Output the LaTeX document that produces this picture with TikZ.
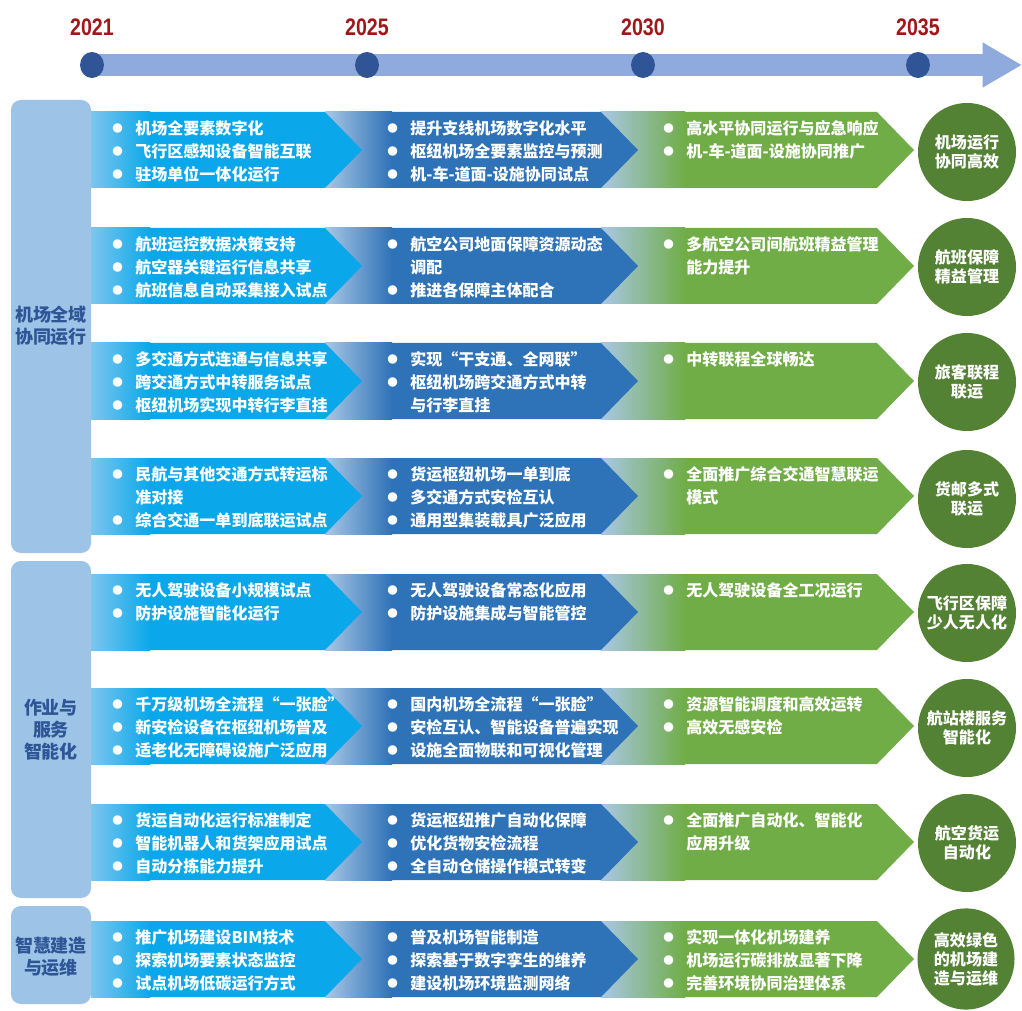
\documentclass[tikz,border=0pt]{standalone}
\usepackage{fontspec}
\setmainfont{Noto Sans CJK SC}
\newfontfamily\yearfont{Liberation Sans}
\usepackage{tikz}
\usetikzlibrary{arrows.meta,shapes.geometric}

\definecolor{litblue}{HTML}{0AA8EA}
\definecolor{litblue0}{HTML}{7CC6EE}
\definecolor{darkblue}{HTML}{2E72B7}
\definecolor{paleblue}{HTML}{A9C7E6}
\definecolor{grn}{HTML}{70AD47}
\definecolor{goalgrn}{HTML}{548235}
\definecolor{catblue}{HTML}{9DC3E6}
\definecolor{cattxt}{HTML}{2F5597}
\definecolor{barblue}{HTML}{8FAADC}
\definecolor{yearred}{HTML}{A0161B}

\newcommand{\bul}{\makebox[16.4pt][l]{\raisebox{1.2pt}{\fontsize{7.5}{7.5}\selectfont ●}}}
\newcommand{\ind}{\hspace*{16.4pt}}

\tikzset{
  timebar/.style={barblue, line width=15pt, -{Triangle[length=28pt,width=30pt]}},
  yeardot/.style={ellipse, fill=cattxt, minimum width=17pt, minimum height=18.5pt, inner sep=0pt},
  yeartext/.style={text=yearred, inner sep=0pt, font=\yearfont\bfseries\fontsize{17}{17}\selectfont},
  catbox/.style={fill=catblue, rounded corners=7pt},
  cattext/.style={text=cattxt, align=center, inner sep=0pt, font=\bfseries\fontsize{12.8}{15.6}\selectfont},
  litarrow/.style={fill=litblue},
  litfade/.style={left color=litblue0, right color=litblue},
  darkarrow/.style={fill=darkblue},
  darkfade/.style={left color=paleblue, right color=darkblue},
  grnarrow/.style={fill=grn},
  grnfade/.style={left color=paleblue, right color=grn},
  itemtext/.style={anchor=north west, inner sep=0pt, align=left, text=white, font=\bfseries\fontsize{11.4}{16.4}\selectfont},
  goal/.style={circle, fill=goalgrn, minimum size=69.7pt, inner sep=0pt, align=center, text=white, font=\bfseries\fontsize{11.4}{13.5}\selectfont}
}

\begin{document}
\begin{tikzpicture}[x=0.025cm,y=-0.025cm]
\useasboundingbox (0,0) rectangle (1022,1011);

%time line
\coordinate (tstart) at (92,65);
\coordinate (tend) at (1022,65);
\draw[timebar] (tstart)--(tend);
\node[yeardot] (d2021) at (92,65) {};
\node[yeardot] (d2025) at (367,65) {};
\node[yeardot] (d2030) at (643,65) {};
\node[yeardot] (d2035) at (918,65) {};
\node[yeartext] (y2021) at (92,27) {\scalebox{0.82}[1]{2021}};
\node[yeartext] (y2025) at (367,27) {\scalebox{0.82}[1]{2025}};
\node[yeartext] (y2030) at (643,27) {\scalebox{0.82}[1]{2030}};
\node[yeartext] (y2035) at (918,27) {\scalebox{0.82}[1]{2035}};

%groups
\fill[catbox] (11,100) rectangle (91,553);
\fill[catbox] (11,561) rectangle (91,898);
\fill[catbox] (11,906) rectangle (91,1004);
\node[cattext] (cat1) at (51,326) {机场全域\\协同运行};
\node[cattext] (cat2) at (51,730) {作业与\\服务\\智能化};
\node[cattext] (cat3) at (51,957) {智慧建造\\与运维};

%row 1
\fill[grnarrow] (601,112)--(877,112)--(914,150)--(877,188)--(601,188)--cycle;
\shade[grnfade] (601,112) rectangle (685,188);
\fill[darkarrow] (325,112)--(601,112)--(638,150)--(601,188)--(325,188)--cycle;
\shade[darkfade] (325,112) rectangle (392,188);
\fill[litarrow] (91,112)--(325,112)--(362,150)--(325,188)--(91,188)--cycle;
\shade[litfade] (91,112) rectangle (150,188);
\node[itemtext] (a1) at (112,120) {\bul 机场全要素数字化\\\bul 飞行区感知设备智能互联\\\bul 驻场单位一体化运行};
\node[itemtext] (b1) at (387,120) {\bul 提升支线机场数字化水平\\\bul 枢纽机场全要素监控与预测\\\bul 机-车-道面-设施协同试点};
\node[itemtext] (c1) at (663,120) {\bul 高水平协同运行与应急响应\\\bul 机-车-道面-设施协同推广};
\node[goal] (g1) at (967,152) {机场运行\\协同高效};

%row 2
\fill[grnarrow] (601,228)--(877,228)--(914,266)--(877,304)--(601,304)--cycle;
\shade[grnfade] (601,228) rectangle (685,304);
\fill[darkarrow] (325,228)--(601,228)--(638,266)--(601,304)--(325,304)--cycle;
\shade[darkfade] (325,228) rectangle (392,304);
\fill[litarrow] (91,228)--(325,228)--(362,266)--(325,304)--(91,304)--cycle;
\shade[litfade] (91,228) rectangle (150,304);
\node[itemtext] (a2) at (112,236) {\bul 航班运控数据决策支持\\\bul 航空器关键运行信息共享\\\bul 航班信息自动采集接入试点};
\node[itemtext] (b2) at (387,236) {\bul 航空公司地面保障资源动态\\\ind 调配\\\bul 推进各保障主体配合};
\node[itemtext] (c2) at (663,236) {\bul 多航空公司间航班精益管理\\\ind 能力提升};
\node[goal] (g2) at (967,267) {航班保障\\精益管理};

%row 3
\fill[grnarrow] (601,343)--(877,343)--(914,381)--(877,419)--(601,419)--cycle;
\shade[grnfade] (601,343) rectangle (685,419);
\fill[darkarrow] (325,343)--(601,343)--(638,381)--(601,419)--(325,419)--cycle;
\shade[darkfade] (325,343) rectangle (392,419);
\fill[litarrow] (91,343)--(325,343)--(362,381)--(325,419)--(91,419)--cycle;
\shade[litfade] (91,343) rectangle (150,419);
\node[itemtext] (a3) at (112,351) {\bul 多交通方式连通与信息共享\\\bul 跨交通方式中转服务试点\\\bul 枢纽机场实现中转行李直挂};
\node[itemtext] (b3) at (387,351) {\bul 实现“干支通、全网联”\\\bul 枢纽机场跨交通方式中转\\\ind 与行李直挂};
\node[itemtext] (c3) at (663,351) {\bul 中转联程全球畅达};
\node[goal] (g3) at (967,382) {旅客联程\\联运};

%row 4
\fill[grnarrow] (601,458)--(877,458)--(914,496)--(877,534)--(601,534)--cycle;
\shade[grnfade] (601,458) rectangle (685,534);
\fill[darkarrow] (325,458)--(601,458)--(638,496)--(601,534)--(325,534)--cycle;
\shade[darkfade] (325,458) rectangle (392,534);
\fill[litarrow] (91,458)--(325,458)--(362,496)--(325,534)--(91,534)--cycle;
\shade[litfade] (91,458) rectangle (150,534);
\node[itemtext] (a4) at (112,466) {\bul 民航与其他交通方式转运标\\\ind 准对接\\\bul 综合交通一单到底联运试点};
\node[itemtext] (b4) at (387,466) {\bul 货运枢纽机场一单到底\\\bul 多交通方式安检互认\\\bul 通用型集装载具广泛应用};
\node[itemtext] (c4) at (663,466) {\bul 全面推广综合交通智慧联运\\\ind 模式};
\node[goal] (g4) at (967,499) {货邮多式\\联运};

%row 5
\fill[grnarrow] (601,574)--(877,574)--(914,612)--(877,650)--(601,650)--cycle;
\shade[grnfade] (601,574) rectangle (685,650);
\fill[darkarrow] (325,574)--(601,574)--(638,612)--(601,650)--(325,650)--cycle;
\shade[darkfade] (325,574) rectangle (392,650);
\fill[litarrow] (91,574)--(325,574)--(362,612)--(325,650)--(91,650)--cycle;
\shade[litfade] (91,574) rectangle (150,650);
\node[itemtext] (a5) at (112,582) {\bul 无人驾驶设备小规模试点\\\bul 防护设施智能化运行};
\node[itemtext] (b5) at (387,582) {\bul 无人驾驶设备常态化应用\\\bul 防护设施集成与智能管控};
\node[itemtext] (c5) at (663,582) {\bul 无人驾驶设备全工况运行};
\node[goal] (g5) at (967,613) {飞行区保障\\少人无人化};

%row 6
\fill[grnarrow] (601,688)--(877,688)--(914,726)--(877,764)--(601,764)--cycle;
\shade[grnfade] (601,688) rectangle (685,764);
\fill[darkarrow] (325,688)--(601,688)--(638,726)--(601,764)--(325,764)--cycle;
\shade[darkfade] (325,688) rectangle (392,764);
\fill[litarrow] (91,688)--(325,688)--(362,726)--(325,764)--(91,764)--cycle;
\shade[litfade] (91,688) rectangle (150,764);
\node[itemtext] (a6) at (112,696) {\bul 千万级机场全流程“一张脸”\\\bul 新安检设备在枢纽机场普及\\\bul 适老化无障碍设施广泛应用};
\node[itemtext] (b6) at (387,696) {\bul 国内机场全流程“一张脸”\\\bul 安检互认、智能设备普遍实现\\\bul 设施全面物联和可视化管理};
\node[itemtext] (c6) at (663,696) {\bul 资源智能调度和高效运转\\\bul 高效无感安检};
\node[goal] (g6) at (967,728) {航站楼服务\\智能化};

%row 7
\fill[grnarrow] (601,804)--(877,804)--(914,842)--(877,880)--(601,880)--cycle;
\shade[grnfade] (601,804) rectangle (685,880);
\fill[darkarrow] (325,804)--(601,804)--(638,842)--(601,880)--(325,880)--cycle;
\shade[darkfade] (325,804) rectangle (392,880);
\fill[litarrow] (91,804)--(325,804)--(362,842)--(325,880)--(91,880)--cycle;
\shade[litfade] (91,804) rectangle (150,880);
\node[itemtext] (a7) at (112,812) {\bul 货运自动化运行标准制定\\\bul 智能机器人和货架应用试点\\\bul 自动分拣能力提升};
\node[itemtext] (b7) at (387,812) {\bul 货运枢纽推广自动化保障\\\bul 优化货物安检流程\\\bul 全自动仓储操作模式转变};
\node[itemtext] (c7) at (663,812) {\bul 全面推广自动化、智能化\\\ind 应用升级};
\node[goal] (g7) at (967,843) {航空货运\\自动化};

%row 8
\fill[grnarrow] (601,921)--(877,921)--(914,959)--(877,997)--(601,997)--cycle;
\shade[grnfade] (601,921) rectangle (685,997);
\fill[darkarrow] (325,921)--(601,921)--(638,959)--(601,997)--(325,997)--cycle;
\shade[darkfade] (325,921) rectangle (392,997);
\fill[litarrow] (91,921)--(325,921)--(362,959)--(325,997)--(91,997)--cycle;
\shade[litfade] (91,921) rectangle (150,997);
\node[itemtext] (a8) at (112,929) {\bul 推广机场建设BIM技术\\\bul 探索机场要素状态监控\\\bul 试点机场低碳运行方式};
\node[itemtext] (b8) at (387,929) {\bul 普及机场智能制造\\\bul 探索基于数字孪生的维养\\\bul 建设机场环境监测网络};
\node[itemtext] (c8) at (663,929) {\bul 实现一体化机场建养\\\bul 机场运行碳排放显著下降\\\bul 完善环境协同治理体系};
\node[goal, ellipse, minimum width=69pt, minimum height=72pt] (g8) at (966,959) {高效绿色\\的机场建\\造与运维};
\end{tikzpicture}
\end{document}
